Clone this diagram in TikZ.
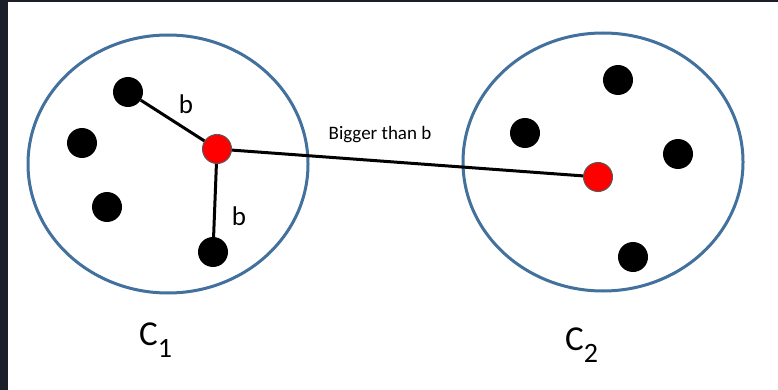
\documentclass[tikz,border=0pt]{standalone}
\usepackage{fontspec}
\setmainfont{Carlito}
\usetikzlibrary{shapes.geometric}
\definecolor{ringblue}{HTML}{41719C}
\definecolor{framedark}{HTML}{1B1F2A}
\newcommand{\subdigit}[1]{\raisebox{-12pt}{\fontsize{28}{30}\selectfont #1}}
\begin{document}
\begin{tikzpicture}[x=1pt,y=-1pt,
  dot/.style={circle,fill=black,minimum size=30pt,inner sep=0pt},
  cen/.style={circle,fill=red,draw=gray!70!black,line width=1pt,minimum size=29pt,inner sep=0pt},
  ring/.style={ellipse,draw=ringblue,line width=3pt,minimum width=280pt,minimum height=258pt,inner sep=0pt},
  link/.style={line width=3pt,black},
  lab/.style={inner sep=0pt,font=\fontsize{27}{30}\selectfont},
  smalllab/.style={inner sep=0pt,font=\fontsize{19}{22}\selectfont},
  cname/.style={inner sep=0pt,font=\fontsize{35}{40}\selectfont}]
\fill[white] (0,0) rectangle (778,390);
\useasboundingbox (0,0) rectangle (778,390);
\fill[framedark] (0,0) rectangle (8,390);
\fill[framedark] (0,0) rectangle (778,2);
% clusters
\node[ring] (k1) at (168,164) {};
\node[ring] (k2) at (603,162) {};
% cluster 1 points
\node[dot] (a1) at (128,92) {};
\node[dot] (a2) at (82,143) {};
\node[dot] (a3) at (107,207) {};
\node[dot] (a4) at (213,252) {};
\node[cen] (r1) at (217,149) {};
% cluster 2 points
\node[dot] (b1) at (618,80) {};
\node[dot] (b2) at (525,133) {};
\node[dot] (b3) at (678,154) {};
\node[dot] (b4) at (633,257) {};
\node[cen] (r2) at (598,177) {};
% links
\draw[link] (a1) -- (r1);
\draw[link] (r1) -- (a4);
\draw[link] (r1) -- (r2);
% labels
\node[lab] (l1) at (186,104) {b};
\node[lab] (l2) at (239,216) {b};
\node[smalllab] (l3) at (380,135) {Bigger than b};
\node[cname,anchor=base west] (c1) at (139,345) {C\subdigit{1}};
\node[cname,anchor=base west] (c2) at (565,350) {C\subdigit{2}};
\end{tikzpicture}
\end{document}
